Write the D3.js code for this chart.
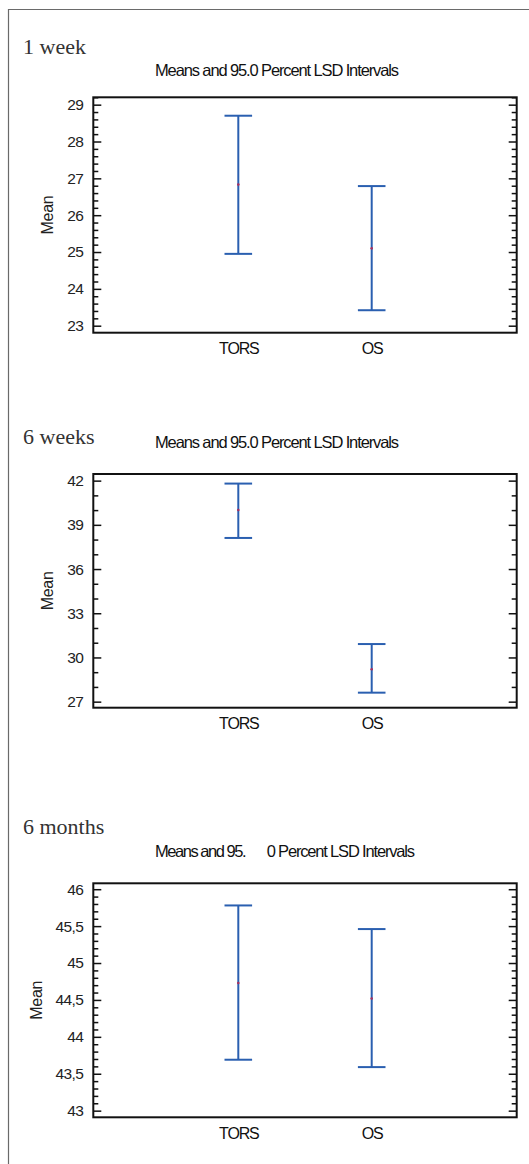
<!DOCTYPE html>
<html>
<head>
<meta charset="utf-8">
<script src="https://cdn.jsdelivr.net/npm/d3@7"></script>
<style>
  html, body { margin: 0; padding: 0; background: #fff; }
  svg { display: block; }
</style>
</head>
<body>
<svg id="chart" width="529" height="1164"></svg>
<script>
// ---------- DATA ----------
const categories = ["TORS", "OS"];

const panelTitles = ["1 week", "6 weeks", "6 months"];
const subtitle = "Means and 95.0 Percent LSD Intervals";
const subtitleSplit = ["Means and 95.", "0 Percent LSD Intervals"]; // third panel has a gap
const yAxisLabel = "Mean";

// means, lower and upper LSD limits per category (TORS, OS)
const means1 = [26.83, 25.10];
const lower1 = [24.95, 23.42];
const upper1 = [28.70, 26.79];

const means2 = [40.01, 29.20];
const lower2 = [38.11, 27.61];
const upper2 = [41.80, 30.91];

const means3 = [44.73, 44.52];
const lower3 = [43.69, 43.59];
const upper3 = [45.78, 45.46];

// tick labels
const ticks1 = [23, 24, 25, 26, 27, 28, 29];
const ticks2 = [27, 30, 33, 36, 39, 42];
const ticks3 = [43, 43.5, 44, 44.5, 45, 45.5, 46];
const minorStep = [0.2, 1, 0.1];
const yDomains = [[22.81, 29.2], [26.59, 42.45], [42.91, 46.08]];

// ---------- LAYOUT ----------
const layout = [
  { titleY: 53.5, subY: 75.5, top: 97.3, bottom: 332.7, labelX: 53, split: false, fmt: "d" },
  { titleY: 443.5, subY: 448, top: 474, bottom: 707.7, labelX: 53, split: false, fmt: "d" },
  { titleY: 833.5, subY: 856.5, top: 883.3, bottom: 1117.3, labelX: 42, split: true, fmt: "comma" }
];
const plotLeft = 93.3, plotRight = 516.7;
const barColor = "#2a5fb0";

const svg = d3.select("#chart");

// outer frame (top and left edges)
svg.append("path")
  .attr("d", "M8.5,1164 L8.5,9.5 L529,9.5")
  .attr("fill", "none")
  .attr("stroke", "#6a6a6a")
  .attr("stroke-width", 1.2);

const commaLocale = d3.formatLocale({ decimal: ",", thousands: ".", grouping: [3], currency: ["", ""] });
const commaFmt = commaLocale.format(".1~f");

const panels = [
  { means: means1, lower: lower1, upper: upper1, ticks: ticks1 },
  { means: means2, lower: lower2, upper: upper2, ticks: ticks2 },
  { means: means3, lower: lower3, upper: upper3, ticks: ticks3 }
];

panels.forEach((p, i) => {
  const L = layout[i];
  const g = svg.append("g");

  // titles
  g.append("text")
    .attr("x", 23).attr("y", L.titleY)
    .attr("font-family", "'Liberation Serif', 'Times New Roman', serif")
    .attr("font-size", 22)
    .attr("fill", "#333")
    .text(panelTitles[i]);

  const subFont = "'Liberation Sans', Arial, sans-serif";
  if (!L.split) {
    g.append("text")
      .attr("x", 155).attr("y", L.subY)
      .attr("font-family", subFont)
      .attr("font-size", 16.5)
      .attr("fill", "#111")
      .attr("textLength", 244)
      .attr("lengthAdjust", "spacing")
      .text(subtitle);
  } else {
    const sg = g.append("g");
    sg.append("text")
      .attr("x", 155).attr("y", L.subY)
      .attr("font-family", subFont).attr("font-size", 16.5).attr("fill", "#111")
      .attr("textLength", 91.5).attr("lengthAdjust", "spacing")
      .text(subtitleSplit[0]);
    sg.append("text")
      .attr("x", 266.7).attr("y", L.subY)
      .attr("font-family", subFont).attr("font-size", 16.5).attr("fill", "#111")
      .attr("textLength", 148.3).attr("lengthAdjust", "spacing")
      .text(subtitleSplit[1]);
  }

  // scales
  const x = d3.scalePoint().domain(categories).range([plotLeft, plotRight]).padding(1.087);
  const y = d3.scaleLinear().domain(yDomains[i]).range([L.bottom, L.top]);

  const d0 = yDomains[i][0], d1 = yDomains[i][1], st = minorStep[i];
  const minor = d3.range(Math.ceil(d0 / st - 1e-9) * st, d1 + 1e-9, st)
    .map(v => +v.toFixed(4))
    .filter(v => !p.ticks.some(t => Math.abs(t - v) < 1e-6));

  const fmt = L.fmt === "comma" ? commaFmt : d3.format("d");

  // left axis - minor
  const leftMinor = g.append("g").attr("transform", `translate(${plotLeft},0)`)
    .call(d3.axisLeft(y).tickValues(minor).tickSize(-5).tickFormat(""));
  // left axis - major
  const leftMajor = g.append("g").attr("transform", `translate(${plotLeft},0)`)
    .call(d3.axisLeft(y).tickValues(p.ticks).tickSize(-8).tickPadding(10).tickFormat(fmt));
  // right axis
  const rightMinor = g.append("g").attr("transform", `translate(${plotRight},0)`)
    .call(d3.axisRight(y).tickValues(minor).tickSize(-5).tickFormat(""));
  const rightMajor = g.append("g").attr("transform", `translate(${plotRight},0)`)
    .call(d3.axisRight(y).tickValues(p.ticks).tickSize(-8).tickFormat(""));

  [leftMinor, leftMajor, rightMinor, rightMajor].forEach(a => {
    a.select(".domain").remove();
    a.selectAll(".tick line").attr("stroke", "#111").attr("stroke-width", 1.5);
  });
  leftMajor.selectAll(".tick text")
    .attr("font-family", "'Liberation Sans', Arial, sans-serif")
    .attr("font-size", 15.5)
    .attr("letter-spacing", "-0.6px")
    .attr("fill", "#222");

  // plot box
  g.append("rect")
    .attr("x", plotLeft).attr("y", L.top)
    .attr("width", plotRight - plotLeft).attr("height", L.bottom - L.top)
    .attr("fill", "none").attr("stroke", "#111").attr("stroke-width", 2);

  // x labels
  g.append("g").selectAll("text").data(categories).join("text")
    .attr("x", d => x(d) + 0.5)
    .attr("y", L.bottom + 21.5)
    .attr("text-anchor", "middle")
    .attr("font-family", "'Liberation Sans', Arial, sans-serif")
    .attr("font-size", 16)
    .attr("letter-spacing", "-1.2px")
    .attr("fill", "#111")
    .text(d => d);

  // y label
  g.append("text")
    .attr("transform", `translate(${L.labelX},${(L.top + L.bottom) / 2}) rotate(-90)`)
    .attr("text-anchor", "middle")
    .attr("font-family", "'Liberation Sans', Arial, sans-serif")
    .attr("font-size", 16)
    .attr("letter-spacing", "-0.3px")
    .attr("fill", "#222")
    .text(yAxisLabel);

  // error bars
  const rows = categories.map((c, k) => ({ c, m: p.means[k], lo: p.lower[k], hi: p.upper[k] }));
  const bars = g.append("g").selectAll("g").data(rows).join("g");
  const capHalf = 13.8;
  bars.append("line")
    .attr("x1", d => x(d.c)).attr("x2", d => x(d.c))
    .attr("y1", d => y(d.lo)).attr("y2", d => y(d.hi))
    .attr("stroke", barColor).attr("stroke-width", 2);
  bars.append("line")
    .attr("x1", d => x(d.c) - capHalf).attr("x2", d => x(d.c) + capHalf)
    .attr("y1", d => y(d.hi)).attr("y2", d => y(d.hi))
    .attr("stroke", barColor).attr("stroke-width", 2);
  bars.append("line")
    .attr("x1", d => x(d.c) - capHalf).attr("x2", d => x(d.c) + capHalf)
    .attr("y1", d => y(d.lo)).attr("y2", d => y(d.lo))
    .attr("stroke", barColor).attr("stroke-width", 2);
  bars.append("circle")
    .attr("cx", d => x(d.c)).attr("cy", d => y(d.m))
    .attr("r", 1.3)
    .attr("fill", "#a8305f");
});
</script>
</body>
</html>
